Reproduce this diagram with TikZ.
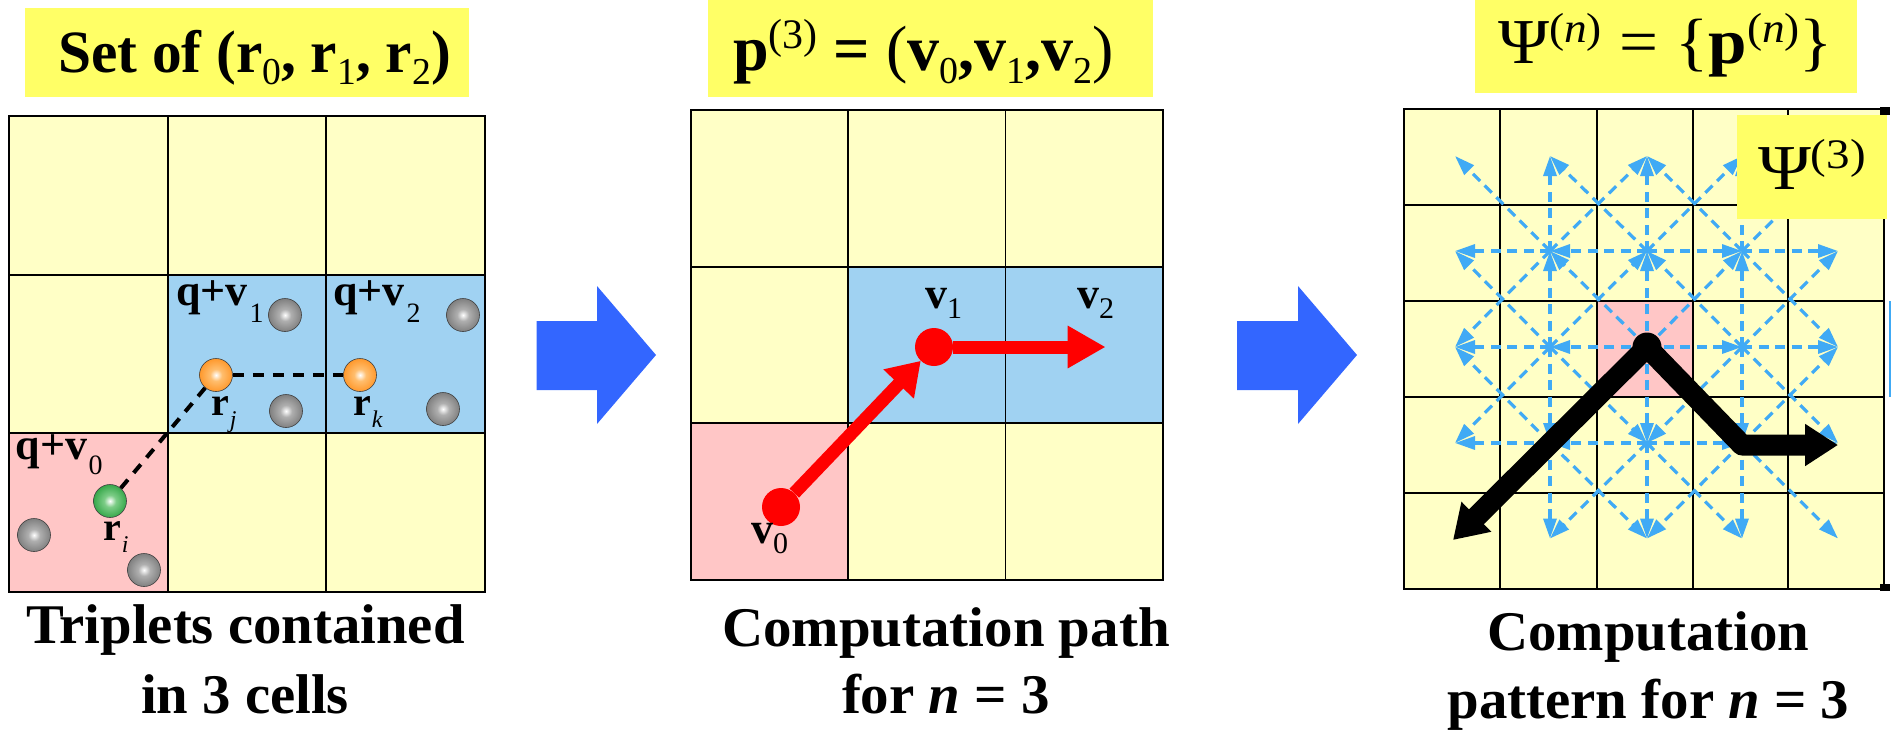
\documentclass[tikz,border=0pt]{standalone}
\usepackage{fontspec}
\usepackage{graphicx}
\setmainfont{Liberation Serif}
\usetikzlibrary{arrows.meta}
\definecolor{cellY}{RGB}{255,255,198}
\definecolor{cellB}{RGB}{160,210,242}
\definecolor{cellP}{RGB}{255,198,198}
\definecolor{boxY}{RGB}{255,255,102}
\definecolor{flow}{RGB}{51,102,255}
\definecolor{sky}{RGB}{64,170,245}
\definecolor{redp}{RGB}{255,0,0}
\definecolor{gA}{RGB}{175,175,175}\definecolor{gB}{RGB}{125,125,125}\definecolor{gC}{RGB}{100,100,100}
\definecolor{oA}{RGB}{255,190,110}\definecolor{oB}{RGB}{255,150,40}\definecolor{oC}{RGB}{250,135,15}
\definecolor{vA}{RGB}{125,205,135}\definecolor{vB}{RGB}{50,165,70}\definecolor{vC}{RGB}{30,135,50}
\pgfdeclareradialshading{ballgray}{\pgfpoint{0bp}{0bp}}{color(0bp)=(white); color(9bp)=(gA); color(26bp)=(gB); color(50bp)=(gC); color(100bp)=(gC)}
\pgfdeclareradialshading{ballorange}{\pgfpoint{0bp}{0bp}}{color(0bp)=(white); color(9bp)=(oA); color(26bp)=(oB); color(50bp)=(oC); color(100bp)=(oC)}
\pgfdeclareradialshading{ballgreen}{\pgfpoint{0bp}{0bp}}{color(0bp)=(white); color(9bp)=(vA); color(26bp)=(vB); color(50bp)=(vC); color(100bp)=(vC)}
\newcommand{\fs}[1]{\fontsize{#1}{#1}\selectfont}
\newcommand{\sx}[2]{\scalebox{#1}[1]{#2}}
\newcommand{\lo}[3]{\raisebox{-#2pt}{\fs{#1}\mdseries\upshape #3}}
\newcommand{\hi}[3]{\raisebox{#2pt}{\fs{#1}\mdseries\upshape #3}}
\tikzset{
  txt/.style={anchor=base west,inner sep=0pt,outer sep=0pt,font=\bfseries},
  ctr/.style={anchor=base,inner sep=0pt,outer sep=0pt,font=\bfseries,align=center},
  ybox/.style={fill=boxY,draw=none},
  cell/.style={draw=black,line width=1.8pt},
  ball/.style={circle,inner sep=0pt,minimum size=33pt,draw=black!75,line width=.6pt,shading=#1},
  link/.style={dash pattern=on 11pt off 9pt,line width=4pt},
  flowarrow/.style={fill=flow,draw=none},
  redarrow/.style={draw=redp,line width=13pt,-{Triangle[length=#1,width=40pt,color=redp]}},
  reddot/.style={circle,fill=redp,inner sep=0pt,minimum size=38pt},
  skyarrow/.style={draw=sky,line width=3.2pt,dash pattern=on 10pt off 6.5pt,-{Triangle[length=20pt,width=13pt,color=sky]}},
  fat/.style={draw=black,line width=21pt,line join=round,{Triangle[length=33pt,width=40pt]}-{Triangle[length=33pt,width=40pt]}}
}
\begin{document}
\begin{tikzpicture}[x=1pt,y=-1pt]
\useasboundingbox (0,0) rectangle (1895,731);
% ---------- left panel
\fill[cellY] (9,116) rectangle (485,592);
\fill[cellB] (168,275) rectangle (485,433);
\fill[cellP] (9,433) rectangle (168,592);
\foreach \xa in {168,326} \draw[cell] (\xa,116) -- (\xa,592);
\foreach \ya in {275,433} \draw[cell] (9,\ya) -- (485,\ya);
\draw[line width=2.4pt] (9,116) rectangle (485,592);
\node[ybox,minimum width=444pt,minimum height=89pt,inner sep=0pt] (titleA) at (247,52.5) {};
\node[txt] (titleAt) at (58,72) {\fs{60}\sx{.99}{Set of (r\lo{38}{12}{0}, r\lo{38}{12}{1}, r\lo{38}{12}{2})}};
\node[ball=ballgray] (g1) at (285,315) {};
\node[ball=ballgray] (g2) at (286,411) {};
\node[ball=ballgray] (g3) at (463,315) {};
\node[ball=ballgray] (g4) at (443,409) {};
\node[ball=ballgray] (g5) at (34,535) {};
\node[ball=ballgray] (g6) at (144,570) {};
\node[ball=ballgreen] (ri) at (110,501) {};
\node[ball=ballorange] (rj) at (216,375) {};
\node[ball=ballorange] (rk) at (360,375) {};
\draw[link] (ri) -- (rj);
\draw[link] (rj) -- (rk);
\node[txt] (qv1) at (176,305) {\fs{44}q+v\hspace{2pt}\lo{28}{17}{1}};
\node[txt] (qv2) at (333,305) {\fs{44}q+v\hspace{2pt}\lo{28}{17}{2}};
\node[txt] (qv0) at (16,459) {\fs{44}q+v\hspace{1pt}\lo{28}{15}{0}};
\node[txt] (lj) at (211,415) {\fs{40}r\hspace{1pt}\raisebox{-12pt}{\fs{24}\mdseries\itshape j}};
\node[txt] (lk) at (353,415) {\fs{40}r\hspace{1pt}\raisebox{-12pt}{\fs{24}\mdseries\itshape k}};
\node[txt] (li) at (103,540) {\fs{40}r\hspace{1pt}\raisebox{-12pt}{\fs{24}\mdseries\itshape i}};
\node[txt] (capA1) at (26,643) {\fs{56}\sx{1.013}{Triplets contained}};
\node[txt] (capA2) at (141,713) {\fs{56}\sx{1.013}{in 3 cells}};
% ---------- flow arrows
\fill[flowarrow] (536.5,321) -- (597,321) -- (597,286) -- (656,355) -- (597,424) -- (597,390) -- (536.5,390) -- cycle;
\fill[flowarrow] (1237,321) -- (1298,321) -- (1298,286) -- (1357,355) -- (1298,424) -- (1298,390) -- (1237,390) -- cycle;
% ---------- middle panel
\fill[cellY] (691,110) rectangle (1163,580);
\fill[cellB] (848,267) rectangle (1163,423);
\fill[cellP] (691,423) rectangle (848,580);
\foreach \xa in {848,1005.5} \draw[cell] (\xa,110) -- (\xa,580);
\foreach \ya in {267,423} \draw[cell] (691,\ya) -- (1163,\ya);
\draw[cell] (691,110) rectangle (1163,580);
\node[ybox,minimum width=445pt,minimum height=97pt,inner sep=0pt] (titleB) at (930.5,48) {};
\node[txt] (titleBt) at (733,70) {\fs{64}\sx{1.0}{p\hi{42}{22}{(3)} = \mdseries(\bfseries v\lo{38}{13}{0},v\lo{38}{13}{1},v\lo{38}{13}{2}\mdseries)}};
\node[reddot] (p0) at (781,507) {};
\node[reddot] (p1) at (934,347) {};
\coordinate (p2) at (1105.6,347);
\draw[redarrow=32pt] (p0) -- (p1);
\draw[redarrow=38pt] (p1) -- (p2);
\node[txt] (lv1) at (925,308) {\fs{44}v\lo{30}{10}{1}};
\node[txt] (lv2) at (1077,308) {\fs{44}v\lo{30}{10}{2}};
\node[txt] (lv0) at (751,543) {\fs{44}v\lo{30}{10}{0}};
\node[txt] (capB1) at (722,646) {\fs{56}\sx{1.017}{Computation path}};
\node[txt] (capB2) at (842,713) {\fs{56}\sx{1.017}{for \textit{n} = 3}};
% ---------- right panel
\fill[cellY] (1404,109) rectangle (1884,589);
\fill[cellP] (1597,301) rectangle (1693,397);
\foreach \xa in {1500,1597,1693,1788} \draw[cell] (\xa,109) -- (\xa,589);
\foreach \ya in {205,301,397,493} \draw[cell] (1404,\ya) -- (1884,\ya);
\draw[cell] (1404,109) rectangle (1884,589);
\foreach \i/\xa in {0/1455,1/1550,2/1647,3/1742,4/1838}
  \foreach \j/\ya in {0/156,1/251,2/347,3/443,4/538.5}
    \coordinate (n\i\j) at (\xa,\ya);
\foreach \s/\t in {22/12,22/21,22/32,22/11,22/31,22/13,22/33,22/23,
  21/11,21/31,21/10,21/20,21/30,
  12/11,12/13,12/21,12/23,12/01,12/02,12/03,
  32/31,32/33,32/21,32/23,32/41,32/42,32/43,
  23/13,23/33,23/14,23/24,23/34,
  11/00,11/10,11/20,11/01,11/02,
  31/40,31/30,31/20,31/41,31/42,
  13/14,13/24,13/03,13/02,
  33/44,33/34,33/24,33/43,33/42}
  \draw[skyarrow] (n\s) -- (n\t);
\draw[sky,line width=2pt] (1890,301) -- (1890,397);
\fill[black] (1880,107) rectangle (1890,115);
\fill[black] (1880,584) rectangle (1890,591);
\node[ybox,minimum width=150pt,minimum height=104pt,inner sep=0pt] (psibox) at (1812,167) {};
\node[txt] (psilab) at (1758,189) {\fs{64}\mdseries\sx{1.12}{Ψ\hi{42}{21}{(3)}}};
\node[ybox,minimum width=382pt,minimum height=93pt,inner sep=0pt] (titleC) at (1666,46.5) {};
\node[txt] (titleCt) at (1498,63) {\fs{64}\mdseries\sx{1.08}{Ψ\hi{42}{21}{(\textit{n})} = \{\textbf{p}\hi{42}{21}{(\textit{n})}\}}};
\node[circle,fill=black,inner sep=0pt,minimum size=29pt] (apex) at (1647,347) {};
\coordinate (bl) at (1453,540);
\coordinate (el) at (1742,445);
\coordinate (br) at (1838,445);
\draw[fat] (bl) -- (apex.center) -- (el) -- (br);
\node[ctr] (capC1) at (1648.5,650) {\fs{56}\sx{1.015}{Computation}};
\node[ctr] (capC2) at (1648.5,718) {\fs{56}\sx{1.015}{pattern for \textit{n} = 3}};
\end{tikzpicture}
\end{document}
